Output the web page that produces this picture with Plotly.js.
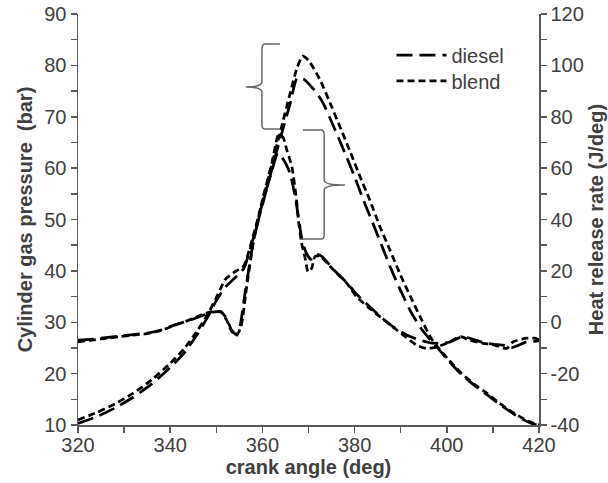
<!DOCTYPE html>
<html>
<head>
<meta charset="utf-8">
<script src="https://cdn.plot.ly/plotly-3.0.1.min.js"></script>
<style>html,body{margin:0;padding:0;background:#fff;}#chart{width:608px;height:483px;}</style>
</head>
<body>
<div id="chart"></div>
<script>
// ---- Data ----
const seriesNames = ["diesel", "blend"];

// Cylinder gas pressure (bar) vs crank angle (deg)
const dieselPressureAngle = [320,324,328,332,336,340,343,346,348,350,352,354,356,358,360,362,364,366,367.5,369,371.8,373.2,375.5,377.5,379.8,381.9,384,385.9,387.8,389.8,392.4,394.5,396.5,398,400.5,403,406,408.7,411.5,414.4,416.5,418.7,420];
const dieselPressure      = [10.3,11.6,13.3,15.4,18.0,21.2,24.0,27.8,30.8,34.2,36.9,38.6,40.5,46.3,52.8,59.6,66.2,72.5,77.5,77.3,74.6,72.6,68.0,63.8,58.8,53.8,49.2,44.9,40.6,36.5,31.7,28.7,26.5,25.0,22.4,20.0,17.7,15.9,14.0,12.2,11.1,10.2,10.0];

const blendPressureAngle = [320,324,328,332,336,340,343,346,348,350,352,354,356,358,360,362,364,366,367.5,368.7,370,372.5,375,376.8,379,381.2,383.3,385.5,387.7,389.8,392,394.2,396.4,398,400.5,403,406,408.7,411.5,414.4,416.5,418.7,420];
const blendPressure      = [11.0,12.4,14.1,16.2,18.8,22.0,24.8,28.5,31.3,34.8,38.4,39.8,41.0,46.8,53.5,60.5,67.5,74.5,79.5,81.8,81.0,77.2,72.0,68.1,63.3,58.3,53.8,48.6,44.0,39.5,35.2,31.1,27.2,25.2,22.6,20.2,17.9,16.2,14.2,12.4,11.3,10.4,10.0];

// Heat release rate (J/deg) vs crank angle (deg)
const dieselHrrAngle = [320,323,326,329,332,335,338,341,344,347,349,351,352.2,353.3,354.3,355.2,356.2,358,360,362,363.3,364.5,366,367.3,368.5,369.5,370.5,371.8,373,375.4,378.3,380.4,383,385.6,388.4,391.3,394.2,396.5,398.5,400.5,403.3,405.5,408,410.1,412.5,414,415.5,417.3,419,420];
const dieselHrr      = [-7.0,-6.6,-6.0,-5.4,-4.8,-4.2,-3.0,-1.0,0.6,2.6,3.8,4.2,1.5,-3.0,-4.8,-1.0,11.0,31.0,46.5,58.5,65.8,63.5,58.0,47.0,33.0,27.0,24.5,26.4,25.5,20.6,15.4,11.0,6.5,2.2,-1.8,-5.0,-7.0,-8.0,-8.2,-7.8,-5.6,-6.5,-8.0,-8.6,-9.0,-10.0,-9.0,-7.6,-7.4,-7.2];

const blendHrrAngle = [320,323,326,329,332,335,338,341,344,347,349,351,352.2,353.3,354.4,355.4,356.6,358,360,362,363.5,364.5,365.3,366.4,367.4,367.8,368.5,369.2,369.9,370.7,371.4,372.5,375.4,378.3,380.4,383,385.6,388.4,391.3,393.5,395.5,397.5,400,403,405,407.9,410.1,413,414.4,417.3,419.1,420];
const blendHrr      = [-7.6,-7.0,-6.3,-5.6,-5.0,-4.4,-3.2,-1.2,0.8,3.0,4.1,4.0,1.0,-3.5,-5.2,-1.5,14.0,30.8,47.5,61.5,73.0,72.0,67.0,60.6,47.6,39.8,30.8,25.6,19.6,21.0,25.6,25.8,20.4,15.2,10.0,5.8,2.0,-2.0,-6.0,-9.0,-10.2,-9.8,-8.2,-5.6,-7.0,-8.2,-8.8,-10.2,-7.6,-6.2,-6.2,-6.8];

// Axis tick labels
const xTicks  = [320,340,360,380,400,420];
const yTicks  = [10,20,30,40,50,60,70,80,90];
const y2Ticks = [-40,-20,0,20,40,60,80,100,120];

// ---- Styles ----
const DIESEL_DASH = "16px,7px";
const BLEND_DASH  = "7px,4px";
const LW = 2.75;
const AXC = "#595959";
const TXC = "#404040";
const FONT = "Liberation Sans, Arial, sans-serif";

const traces = [
  {x: dieselPressureAngle, y: dieselPressure, name: seriesNames[0], type: "scatter", mode: "lines",
   line: {color: "#000", width: LW, dash: DIESEL_DASH, shape: "spline", smoothing: 0.5}, showlegend: true, legend: "legend", yaxis: "y"},
  {x: blendPressureAngle, y: blendPressure, name: seriesNames[1], type: "scatter", mode: "lines",
   line: {color: "#000", width: LW, dash: BLEND_DASH, shape: "spline", smoothing: 0.5}, showlegend: true, legend: "legend2", yaxis: "y"},
  {x: dieselHrrAngle, y: dieselHrr, name: seriesNames[0] + " HRR", type: "scatter", mode: "lines",
   line: {color: "#000", width: LW, dash: DIESEL_DASH, shape: "spline", smoothing: 0.5}, showlegend: false, yaxis: "y2"},
  {x: blendHrrAngle, y: blendHrr, name: seriesNames[1] + " HRR", type: "scatter", mode: "lines",
   line: {color: "#000", width: LW, dash: BLEND_DASH, shape: "spline", smoothing: 0.5}, showlegend: false, yaxis: "y2"}
];

const axisCommon = {
  showgrid: false, zeroline: false, showline: true, linecolor: AXC, linewidth: 1.5,
  ticks: "outside", ticklen: 6, tickwidth: 1.5, tickcolor: AXC,
  tickfont: {family: FONT, size: 20, color: TXC}
};

const legendCommon = {xanchor: "left", yanchor: "middle", bgcolor: "rgba(0,0,0,0)",
  font: {family: FONT, size: 20, color: TXC}, itemwidth: 50};

const braceColor = "#666";
const layout = {
  width: 608, height: 483,
  margin: {l: 78, r: 69, t: 14, b: 58, pad: 0},
  paper_bgcolor: "#fff", plot_bgcolor: "#fff",
  font: {family: FONT, color: TXC},
  showlegend: true,
  legend:  Object.assign({}, legendCommon, {x: 0.680, y: 0.900}),
  legend2: Object.assign({}, legendCommon, {x: 0.680, y: 0.837}),
  xaxis: Object.assign({}, axisCommon, {
    range: [320, 420], tickmode: "array", tickvals: xTicks, ticktext: xTicks.map(String),
    ticklabelstandoff: -5,
    minor: {dtick: 10, tick0: 320, ticks: "outside", ticklen: 6, tickwidth: 1.5, tickcolor: AXC},
    title: {text: "<b>crank angle (deg)</b>", font: {family: FONT, size: 20, color: TXC}, standoff: 4}
  }),
  yaxis: Object.assign({}, axisCommon, {
    range: [10, 90], tickmode: "array", tickvals: yTicks, ticktext: yTicks.map(String),
    minor: {dtick: 5, tick0: 10, ticks: "outside", ticklen: 6, tickwidth: 1.5, tickcolor: AXC},
    title: {text: "<b>Cylinder gas pressure \u00a0(bar)</b>", font: {family: FONT, size: 20, color: TXC}, standoff: 6}
  }),
  yaxis2: Object.assign({}, axisCommon, {
    overlaying: "y", side: "right",
    range: [-40, 120], tickmode: "array", tickvals: y2Ticks, ticktext: y2Ticks.map(String),
    minor: {dtick: 10, tick0: -40, ticks: "outside", ticklen: 6, tickwidth: 1.5, tickcolor: AXC},
    title: {text: "<b>Heat release rate (J/deg)</b>", font: {family: FONT, size: 20, color: TXC}, standoff: 6}
  }),
  shapes: [
    {type: "path", xref: "x", yref: "y", line: {color: braceColor, width: 1.5},
     path: "M 363.8,84.16 L 360.6,84.16 Q 359.9,84.16 359.9,83.2 L 359.9,76.8 Q 359.9,75.8 356.4,75.8 Q 359.9,75.8 359.9,74.8 L 359.9,68.5 Q 359.9,67.6 360.6,67.6 L 363.8,67.6"},
    {type: "path", xref: "x", yref: "y", line: {color: braceColor, width: 1.5},
     path: "M 368.8,67.4 L 372.7,67.4 Q 373.4,67.4 373.4,66.5 L 373.4,57.7 Q 373.4,56.7 377.9,56.7 Q 373.4,56.7 373.4,55.7 L 373.4,47.1 Q 373.4,46.2 372.7,46.2 L 368.2,46.2"}
  ]
};

Plotly.newPlot("chart", traces, layout, {displayModeBar: false, staticPlot: true});
</script>
</body>
</html>
